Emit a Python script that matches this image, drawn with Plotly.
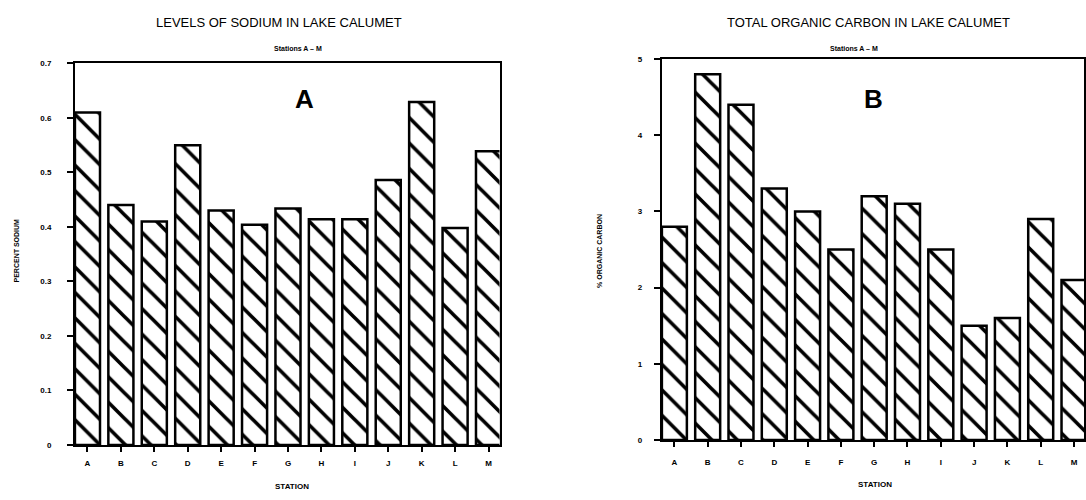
import plotly.graph_objects as go

stations = ["A", "B", "C", "D", "E", "F", "G", "H", "I", "J", "K", "L", "M"]
sodium_pct = [0.61, 0.44, 0.41, 0.55, 0.43, 0.404, 0.434, 0.414, 0.414, 0.486, 0.629, 0.398, 0.539]
organic_carbon_pct = [2.8, 4.8, 4.4, 3.3, 3.0, 2.5, 3.2, 3.1, 2.5, 1.5, 1.6, 2.9, 2.1]

sodium_ticks = [0, 0.1, 0.2, 0.3, 0.4, 0.5, 0.6, 0.7]
sodium_ticktext = ["0", "0.1", "0.2", "0.3", "0.4", "0.5", "0.6", "0.7"]
carbon_ticks = [0, 1, 2, 3, 4, 5]

W, H = 1086, 500
FONT = "Liberation Sans Narrow, Arial Narrow, Liberation Sans, Arial, sans-serif"

def px(x):
    return x / W

def py(y):
    return 1 - y / H

bar_style = dict(
    marker=dict(
        color="white",
        line=dict(color="black", width=2.5),
        pattern=dict(shape="\\", fgcolor="black", bgcolor="white", fgopacity=1,
                     fillmode="replace", size=18, solidity=0.2),
    ),
    showlegend=False,
)

fig = go.Figure()
fig.add_trace(go.Bar(x=stations, y=sodium_pct, xaxis="x", yaxis="y", **bar_style))
fig.add_trace(go.Bar(x=stations, y=organic_carbon_pct, xaxis="x2", yaxis="y2", **bar_style))

axis_common = dict(
    showline=True, linecolor="black", linewidth=2, mirror=True,
    showgrid=False, zeroline=False, ticks="outside", tickcolor="black",
    tickfont=dict(family=FONT, size=8, color="black", weight="bold"),
)

fig.update_layout(
    width=W, height=H,
    margin=dict(l=0, r=0, t=0, b=0),
    paper_bgcolor="white", plot_bgcolor="white",
    bargap=0.25,
    xaxis=dict(domain=[px(75), px(500)], range=[-0.375, 12.33], anchor="y",
               ticklen=5, tickwidth=1.5, ticklabelstandoff=4, **axis_common),
    yaxis=dict(domain=[py(449), py(60.5)], range=[0, 0.7], anchor="x",
               tickvals=sodium_ticks, ticktext=sodium_ticktext,
               ticklen=6, tickwidth=1.5, ticklabelstandoff=14, **axis_common),
    xaxis2=dict(domain=[px(662.5), px(1085)], range=[-0.375, 12.3], anchor="y2",
                ticklen=5, tickwidth=1.5, ticklabelstandoff=8, **axis_common),
    yaxis2=dict(domain=[py(444), py(56)], range=[0, 5], anchor="x2",
                tickvals=carbon_ticks,
                ticklen=6, tickwidth=1.5, ticklabelstandoff=10, **axis_common),
)

def ann(text, x, y, size, bold=True, angle=0):
    fig.add_annotation(
        text=text, x=px(x), y=py(y), xref="paper", yref="paper",
        showarrow=False, textangle=angle, xanchor="center", yanchor="middle",
        font=dict(family=FONT, size=size, color="black", weight="bold" if bold else "normal"),
    )

ann("LEVELS OF SODIUM IN LAKE CALUMET", 279, 19, 13, bold=False)
ann("TOTAL ORGANIC CARBON IN LAKE CALUMET", 869, 19, 13, bold=False)
ann("Stations A – M", 298, 45, 7)
ann("Stations A – M", 855, 45, 7)
fig.add_annotation(text="A", x=px(293), y=py(79), xref="paper", yref="paper", showarrow=False,
                   font=dict(family="Liberation Sans, Arial, sans-serif", size=26, color="black", weight="bold"))
fig.add_annotation(text="B", x=px(886), y=py(79), xref="paper", yref="paper", showarrow=False,
                   font=dict(family="Liberation Sans, Arial, sans-serif", size=26, color="black", weight="bold"))
ann("STATION", 292, 491, 8)
ann("STATION", 876, 489, 8)
ann("PERCENT SODIUM", 16, 251, 7, angle=-90)
ann("% ORGANIC CARBON", 600, 251, 7, angle=-90)

fig.write_html("out.html")
